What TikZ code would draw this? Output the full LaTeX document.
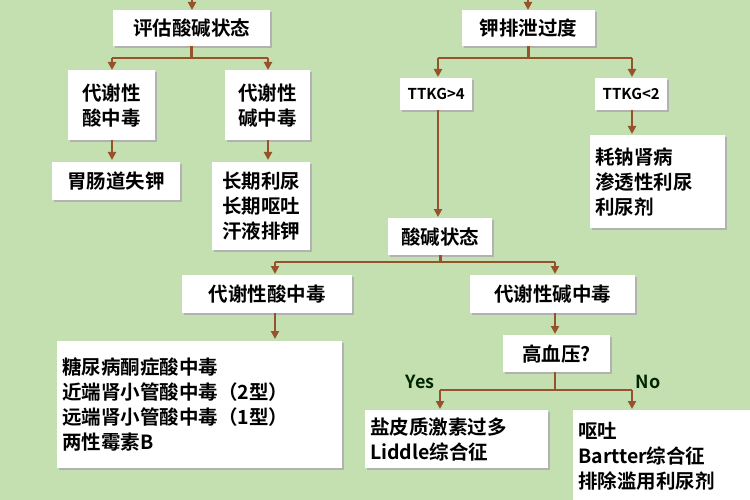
\documentclass[tikz,border=0pt]{standalone}
\usepackage{fontspec}
\setmainfont{Noto Sans CJK SC}[BoldFont={* Bold}]
\usetikzlibrary{arrows.meta}
\definecolor{bg}{RGB}{196,224,176}
\definecolor{arr}{RGB}{150,82,42}
\tikzset{
 box/.style={fill=white,inner sep=0pt},
 ln/.style={draw=arr,line width=2.6pt},
 ar/.style={ln,-{Triangle[length=8pt,width=8pt]}},
}
\newcommand{\bx}[6]{\fill[black!30] (#1+2,#2+2) rectangle (#3+2,#4+2);
 \node[box,minimum width=#3-#1,minimum height=#4-#2,anchor=north west] (#5) at (#1,#2) {};
 \node[font=\bfseries\fontsize{19.5}{25}\selectfont,align=left,inner sep=0pt,anchor=west] at ([xshift=5pt]#5.west) {#6};}
\newcommand{\bxc}[6]{\fill[black!30] (#1+2,#2+2) rectangle (#3+2,#4+2);
 \node[box,minimum width=#3-#1,minimum height=#4-#2,anchor=north west] (#5) at (#1,#2) {};
 \node[font=\bfseries\fontsize{19.5}{25}\selectfont,align=left,inner sep=0pt] at (#5.center) {#6};}
\begin{document}
\begin{tikzpicture}[x=1pt,y=-1pt]
\fill[bg] (0,0) rectangle (750,500);
\useasboundingbox (0,0) rectangle (750,500);
\bxc{113}{10}{270}{46}{a}{评估酸碱状态}
\bxc{462}{10}{595}{46}{b}{钾排泄过度}
\bxc{68}{70}{155}{140}{c}{代谢性\\酸中毒}
\bxc{225}{70}{310}{140}{d}{代谢性\\碱中毒}
\bxc{52}{162}{180}{200}{e}{胃肠道失钾}
\bxc{212}{162}{310}{250}{f}{长期利尿\\长期呕吐\\汗液排钾}
\bxc{400}{78}{472}{110}{g}{\fontsize{15}{18}\selectfont TTKG>4}
\bxc{595}{78}{667}{110}{h}{\fontsize{15}{18}\selectfont TTKG<2}
\bx{590}{135}{725}{228}{i}{耗钠肾病\\渗透性利尿\\利尿剂}
\bxc{388}{218}{492}{255}{j}{酸碱状态}
\bxc{182}{275}{352}{313}{k}{代谢性酸中毒}
\bxc{470}{275}{635}{313}{l}{代谢性碱中毒}
\bx{57}{341}{342}{468}{m}{糖尿病酮症酸中毒\\近端肾小管酸中毒（2型）\\远端肾小管酸中毒（1型）\\两性霉素B}
\bxc{503}{335}{610}{372}{n}{高血压?}
\bx{365}{410}{548}{468}{o}{盐皮质激素过多\\Liddle综合征}
\bx{573}{410}{752}{502}{p}{呕吐\\Bartter综合征\\排除滥用利尿剂}
\coordinate (t1) at (192,-2); \coordinate (t2) at (528,-2);
\draw[ar] (t1) -- (a.north -| t1);
\draw[ar] (t2) -- (b.north -| t2);
\draw[ln] (a.south) -- (a.south |- 0,58);
\draw[ln] (112,58) -- (268,58);
\draw[ar] (112,58) -- (112,70); \draw[ar] (268,58) -- (268,70);
\draw[ar] (c.south -| 112,0) -- (112,160);
\draw[ar] (d.south -| 268,0) -- (268,160);
\draw[ln] (b.south) -- (b.south |- 0,58);
\draw[ln] (438,58) -- (632,58);
\draw[ar] (438,58) -- (438,77); \draw[ar] (632,58) -- (632,77);
\draw[ar] (g.south -| 438,0) -- (438,217);
\draw[ar] (h.south -| 632,0) -- (632,134);
\draw[ln] (j.south) -- (j.south |- 0,262);
\draw[ln] (275,262) -- (555,262);
\draw[ar] (275,262) -- (275,274); \draw[ar] (555,262) -- (555,274);
\draw[ar] (k.south -| 275,0) -- (275,339);
\draw[ar] (l.south -| 555,0) -- (555,334);
\draw[ln] (n.south -| 555,0) -- (555,390);
\draw[ln] (440,390) -- (632,390);
\draw[ar] (440,390) -- (440,409); \draw[ar] (632,390) -- (632,409);
\node[font=\bfseries\fontsize{18}{20}\selectfont,text=black!85!green] (yes) at (420,382) {Yes};
\node[font=\bfseries\fontsize{18}{20}\selectfont,text=black!85!green] (no) at (648,382) {No};
\end{tikzpicture}
\end{document}
